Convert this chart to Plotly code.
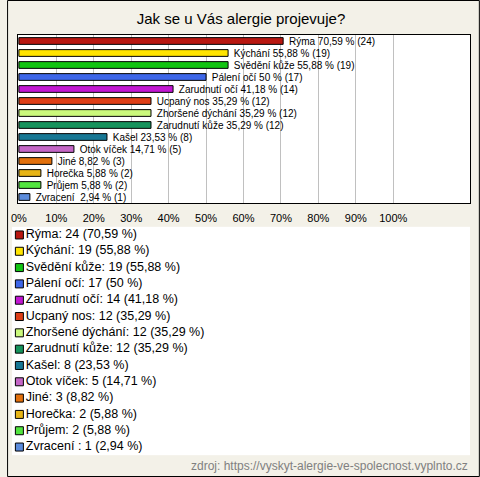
import plotly.graph_objects as go

# survey answers (top to bottom)
answers = ["Rýma", "Kýchání", "Svědění kůže", "Pálení očí", "Zarudnutí očí",
           "Ucpaný nos", "Zhoršené dýchání", "Zarudnutí kůže", "Kašel",
           "Otok víček", "Jiné", "Horečka", "Průjem", "Zvracení "]
counts = [24, 19, 19, 17, 14, 12, 12, 12, 8, 5, 3, 2, 2, 1]
percents = [70.59, 55.88, 55.88, 50, 41.18, 35.29, 35.29, 35.29, 23.53,
            14.71, 8.82, 5.88, 5.88, 2.94]
colors = ["#B81710", "#FFE400", "#12C412", "#3D66E8", "#C216D2", "#DE3E16",
          "#CBF97C", "#16935C", "#177794", "#C466C6", "#E2700C", "#E6B416",
          "#52E43E", "#5C8CDC"]
tick_vals = list(range(0, 101, 10))
tick_text = [f"{v}%" for v in tick_vals]

title = "Jak se u Vás alergie projevuje?"
source = "zdroj: https://vyskyt-alergie-ve-spolecnost.vyplnto.cz"

W, H = 480, 477
ML, MR, MT, MB = 5, 10, 35, 20
PW, PH = W - ML - MR, H - MT - MB

FONT = "Liberation Sans, Arial, sans-serif"


def fmt_pct(p):
    s = f"{p:.2f}".rstrip("0").rstrip(".")
    return s.replace(".", ",")


# small gap between bar end and its label
bar_text = [f"\u00a0{a} {fmt_pct(p)} % ({c})" for a, c, p in zip(answers, counts, percents)]
legend_text = [f"{a}: {c} ({fmt_pct(p)} %)" for a, c, p in zip(answers, counts, percents)]

fig = go.Figure()

fig.add_trace(go.Bar(
    x=percents, y=answers, orientation="h",
    marker=dict(color=colors, line=dict(color="#000000", width=1)),
    width=0.56,
    text=bar_text, textposition="outside", cliponaxis=False,
    constraintext="none",
    textfont=dict(family=FONT, size=10, color="#000000"),
    hoverinfo="skip", showlegend=False,
))

# legend drawn as its own little subplot: squares + labels
fig.add_trace(go.Scatter(
    x=[12.5] * len(answers), y=list(range(len(answers))),
    mode="markers",
    marker=dict(symbol="square", size=8, color=colors,
                line=dict(color="#000000", width=1)),
    xaxis="x2", yaxis="y2", cliponaxis=False,
    hoverinfo="skip", showlegend=False,
))
fig.add_trace(go.Scatter(
    x=[19] * len(answers), y=list(range(len(answers))),
    mode="text",
    text=legend_text, textposition="middle right",
    textfont=dict(family=FONT, size=12.5, color="#000000"),
    xaxis="x2", yaxis="y2", cliponaxis=False,
    hoverinfo="skip", showlegend=False,
))


def px_x(p):
    return (p - ML) / PW


def px_y(p):
    return (H - MB - p) / PH


fig.update_layout(
    width=W, height=H,
    margin=dict(l=ML, r=MR, t=MT, b=MB),
    paper_bgcolor="#F3F1E8", plot_bgcolor="#FFFFFF",
    font=dict(family=FONT, size=11, color="#000000"),
    title=dict(text=title, x=0.5, xref="paper", y=1 - 19 / H, yanchor="middle",
               font=dict(family=FONT, size=15, color="#000000")),
    showlegend=False,
    xaxis=dict(domain=[px_x(11), 1], range=[-0.26, 120.5],
               tickvals=tick_vals, ticktext=tick_text, ticks="",
               ticklabelstandoff=5,
               showgrid=True, gridcolor="#C0C0C0", gridwidth=1,
               zeroline=False, showline=True, linecolor="#000000",
               linewidth=1, mirror=True,
               tickfont=dict(family=FONT, size=11, color="#000000")),
    yaxis=dict(domain=[px_y(203), 1], autorange="reversed",
               categoryorder="array", categoryarray=answers,
               showticklabels=False, ticks="", showgrid=False,
               zeroline=False, showline=True, linecolor="#000000",
               linewidth=1, mirror=True),
    xaxis2=dict(domain=[0, 1], range=[ML, W - MR], anchor="y2",
                visible=False),
    yaxis2=dict(domain=[px_y(455.2), px_y(226.8)], range=[13.5, -0.5],
                anchor="x2", visible=False),
    shapes=[dict(type="rect", xref="paper", yref="paper",
                 x0=px_x(0.5), x1=px_x(W - 0.5),
                 y0=px_y(H - 0.5), y1=px_y(0.5),
                 line=dict(color="#000000", width=1), layer="above")],
    annotations=[dict(text=source, xref="paper", yref="paper",
                      x=1, y=px_y(466), xanchor="right", yanchor="middle",
                      showarrow=False,
                      font=dict(family=FONT, size=12, color="#808080"))],
)

# page has a default 8px body margin; drop it so the figure fills the window
fig.write_html("out.html", config={"displayModeBar": False},
               post_script="document.body.style.margin='0';document.body.style.overflow='hidden';")
